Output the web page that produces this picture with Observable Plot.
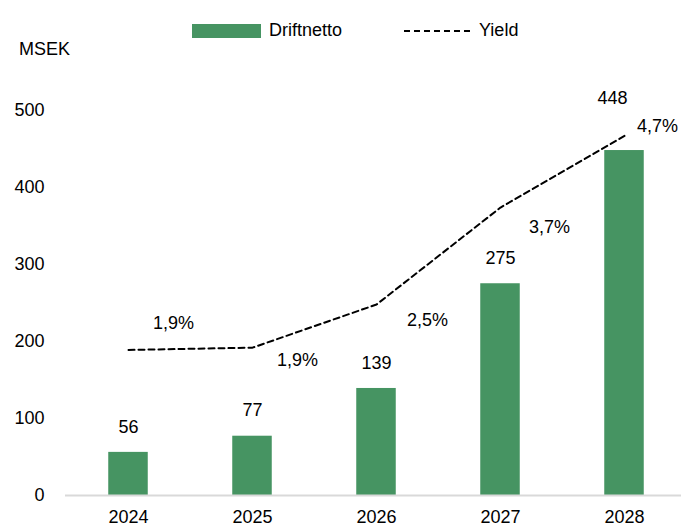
<!DOCTYPE html>
<html>
<head>
<meta charset="utf-8">
<script src="https://cdn.jsdelivr.net/npm/d3@7"></script>
<script src="https://cdn.jsdelivr.net/npm/@observablehq/plot@0.6"></script>
<style>
  html, body { margin: 0; padding: 0; background: #fff; }
  #wrap { position: relative; width: 681px; height: 532px; font-family: "Liberation Sans", Arial, sans-serif; color: #000; }
  #legend { position: absolute; top: 20px; left: 192px; display: flex; align-items: center; font-size: 18px; }
  .sw { display: inline-block; width: 69px; height: 14px; background: #469462; margin-right: 8px; }
  .ln { display: inline-block; margin-left: 62px; margin-right: 7px; }
  #unit { position: absolute; left: 19px; top: 39px; font-size: 18px; }
  svg { display: block; }
</style>
</head>
<body>
<div id="wrap">
  <div id="legend"><span class="sw"></span><span>Driftnetto</span><svg class="ln" width="68" height="4"><line x1="0" y1="2" x2="68" y2="2" stroke="#000" stroke-width="2" stroke-dasharray="6,4"/></svg><span>Yield</span></div>
  <div id="unit">MSEK</div>
  <div id="chart"></div>
</div>
<script>
// ---- data ----
const years = ["2024", "2025", "2026", "2027", "2028"];
const driftnetto = [56, 77, 139, 275, 448];
const yieldPct = [1.89, 1.92, 2.48, 3.74, 4.67];
const yieldLabels = ["1,9%", "1,9%", "2,5%", "3,7%", "4,7%"];
const yTicks = [0, 100, 200, 300, 400, 500];

const rows = years.map((y, i) => ({year: y, drift: driftnetto[i], yld: yieldPct[i], ylab: yieldLabels[i]}));

// label placement (styling, not data)
const yieldLabelOffsets = [[45, -27], [45, 13], [51, 16], [49, 20], [33, -10]];
const barLabelOffsets = [[0, -25], [0, -26], [0, -25], [0, -26], [-12, -52]];

const font = "\"Liberation Sans\", Arial, sans-serif";

const chart = Plot.plot({
  width: 681,
  height: 532,
  marginLeft: 65,
  marginRight: 0,
  marginTop: 0,
  marginBottom: 37,
  style: {fontFamily: font, fontSize: "18px", color: "#000", background: "#fff", overflow: "visible"},
  x: {domain: years, range: [65, 687.5], padding: 0},
  y: {domain: [0, 500], range: [495, 110]},
  marks: [
    Plot.axisY({ticks: yTicks, tickSize: 0, tickPadding: 21, label: null, fontSize: 18}),
    Plot.axisX({tickSize: 0, tickPadding: 15, label: null, fontSize: 18}),
    Plot.barY(rows, {x: "year", y: "drift", fill: "#469462", insetLeft: 42.25, insetRight: 42.25}),
    Plot.ruleY([0], {stroke: "#d9d9d9", strokeWidth: 2}),
    Plot.line(rows, {x: "year", y: d => d.yld * 100, stroke: "#000", strokeWidth: 2, strokeDasharray: "6,4"}),
    ...barLabelOffsets.map((o, i) => Plot.text([rows[i]], {x: "year", y: "drift", text: d => String(d.drift), dx: o[0], dy: o[1], fontSize: 18, fill: "#000"})),
    ...yieldLabelOffsets.map((o, i) => Plot.text([rows[i]], {x: "year", y: d => d.yld * 100, text: "ylab", dx: o[0], dy: o[1], fontSize: 18, fill: "#000"}))
  ]
});
document.getElementById("chart").appendChild(chart);
</script>
</body>
</html>
